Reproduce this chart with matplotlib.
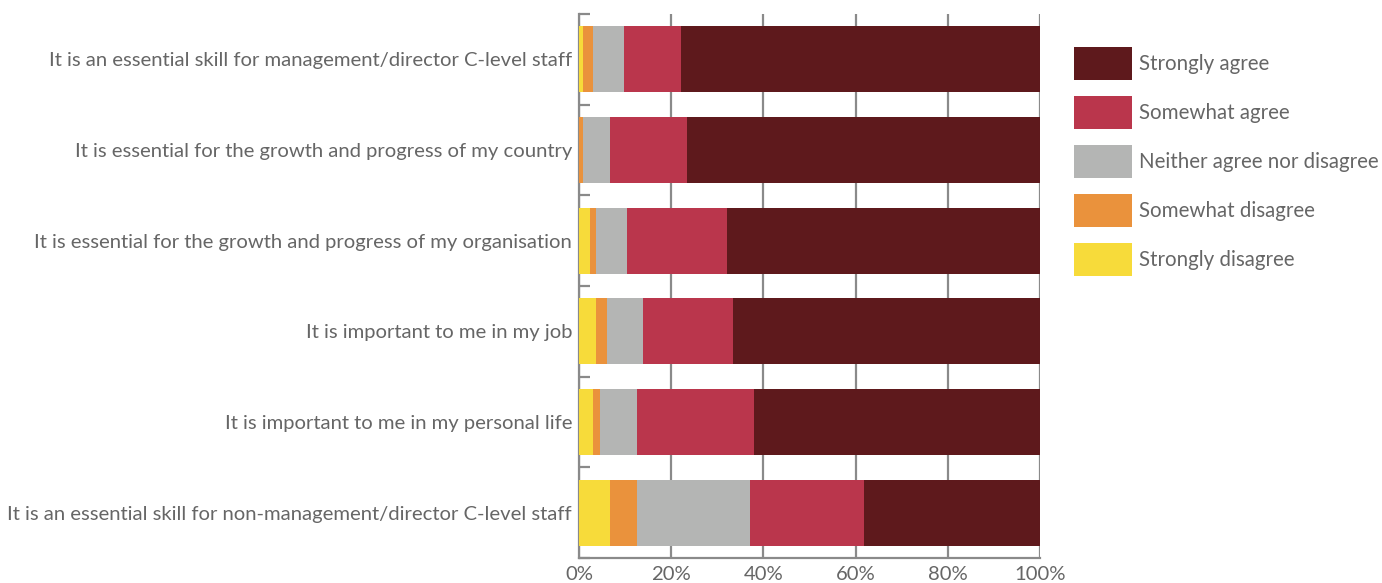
import matplotlib
matplotlib.use("Agg")
import matplotlib.pyplot as plt
from matplotlib.ticker import FixedLocator, PercentFormatter

plt.rcParams['font.family'] = ['Lato', 'DejaVu Sans']

statements = [
    "It is an essential skill for management/director C-level staff",
    "It is essential for the growth and progress of my country",
    "It is essential for the growth and progress of my organisation",
    "It is important to me in my job",
    "It is important to me in my personal life",
    "It is an essential skill for non-management/director C-level staff",
]

strongly_disagree = [0.9, 0.0, 2.4, 3.7, 3.0, 6.7]
somewhat_disagree = [2.1, 0.9, 1.3, 2.4, 1.5, 5.9]
neither = [6.7, 5.8, 6.7, 7.8, 8.1, 24.6]
somewhat_agree = [12.4, 16.7, 21.6, 19.6, 25.3, 24.7]
strongly_agree = [77.9, 76.6, 68.0, 66.5, 62.1, 38.1]

series_names = ["Strongly disagree", "Somewhat disagree",
                "Neither agree nor disagree", "Somewhat agree", "Strongly agree"]
series_values = [strongly_disagree, somewhat_disagree, neither,
                 somewhat_agree, strongly_agree]
series_colors = ["#F7DB3A", "#EA923C", "#B4B5B4", "#BA364C", "#5E191C"]

x_ticks = [0, 20, 40, 60, 80, 100]

text_color = "#666666"
line_color = "#8A8A8A"
label_size = 14.6
legend_size = 14.8

fig = plt.figure(figsize=(13.82, 5.83), dpi=100)
ax = fig.add_axes([579 / 1382, 1 - 558 / 583, (1040 - 579) / 1382, (558 - 14) / 583])

ypos = list(range(len(statements)))
left = [0.0] * len(statements)
handles = []
for name, vals, col in zip(series_names, series_values, series_colors):
    h = ax.barh(ypos, vals, left=left, height=0.73, color=col, label=name,
                zorder=3, linewidth=0)
    handles.append(h)
    left = [a + b for a, b in zip(left, vals)]

ax.set_xlim(0, 100)
ax.set_ylim(len(statements) - 0.5, -0.5)

ax.xaxis.set_major_locator(FixedLocator(x_ticks))
ax.xaxis.set_major_formatter(PercentFormatter(decimals=0))
ax.grid(axis='x', color=line_color, linewidth=1.6, zorder=0)
ax.tick_params(axis='x', length=0, pad=6, labelsize=label_size, labelcolor=text_color)

ax.set_yticks(ypos)
ax.set_yticklabels(statements)
ax.tick_params(axis='y', which='major', length=0, pad=5, labelsize=label_size,
               labelcolor=text_color)
ax.set_yticks([i + 0.5 for i in range(-1, len(statements))], minor=True)
ax.tick_params(axis='y', which='minor', direction='in', length=8, width=1.6,
               color=line_color)

for side in ['top', 'right']:
    ax.spines[side].set_visible(False)
for side in ['left', 'bottom']:
    ax.spines[side].set_color(line_color)
    ax.spines[side].set_linewidth(1.6)

# legend swatches: 58 x 33 px, rows 49 px apart
fs_px = legend_size * 100 / 72
swatch_h = 33 / fs_px
leg = fig.legend(handles[::-1], series_names[::-1], loc='upper left',
                 bbox_to_anchor=(1070 / 1382, 1 - 43 / 583), frameon=False,
                 fontsize=legend_size, handlelength=58 / fs_px,
                 handleheight=(swatch_h - 0.245) / 0.65, labelspacing=16 / fs_px,
                 handletextpad=7 / fs_px, borderaxespad=0, borderpad=0.2)
for t in leg.get_texts():
    t.set_color(text_color)

fig.savefig("out.png", dpi=100)
